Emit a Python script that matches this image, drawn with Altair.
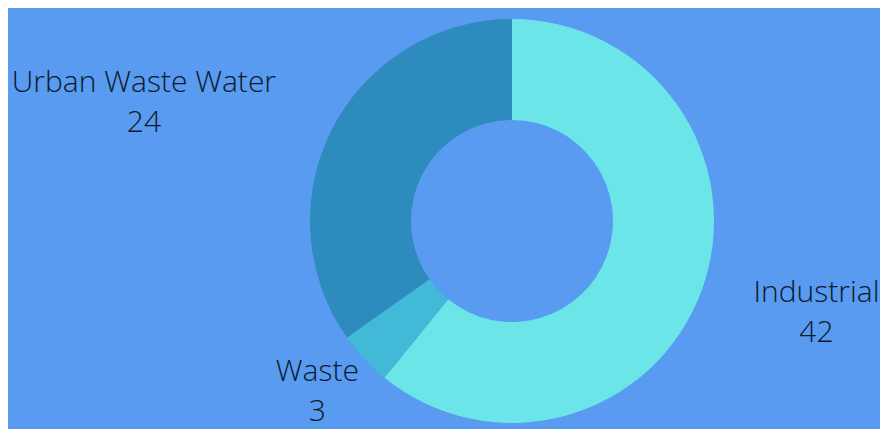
import math
import altair as alt
import pandas as pd

# Data
categories = ["Industrial", "Waste", "Urban Waste Water"]
values = [42, 3, 24]
colors = ["#6CE5E8", "#42B9D6", "#2D8BBD"]

# Layout (pixels / degrees) - kept separate from data
W, H = 872, 421
CX, CY = 504, 213
R_OUT, R_IN = 202, 101
label_radius = [315, 252, 390]
label_angle_nudge = [-4.7, 3.6, -8.1]

df = pd.DataFrame({"category": categories, "value": values, "order": range(len(categories))})
df["text"] = [[c, str(v)] for c, v in zip(categories, values)]

total = sum(values)
cum = 0
xs, ys = [], []
for v, r, nd in zip(values, label_radius, label_angle_nudge):
    mid = (cum + v / 2) / total * 360 + nd
    cum += v
    a = math.radians(mid)
    xs.append(CX + r * math.sin(a))
    ys.append(CY - r * math.cos(a))
df["lx"] = xs
df["ly"] = ys

color_scale = alt.Scale(domain=categories, range=colors)

arcs = alt.Chart(df).mark_arc(innerRadius=R_IN, outerRadius=R_OUT, stroke=None).encode(
    theta=alt.Theta("value:Q", stack=True),
    order=alt.Order("order:Q"),
    color=alt.Color("category:N", scale=color_scale, legend=None),
    x=alt.value(CX),
    y=alt.value(CY),
)

labels = alt.Chart(df).mark_text(
    font="Open Sans", fontWeight=300, fontSize=30, color="#0E1A2C",
    align="center", baseline="alphabetic", lineHeight=40,
).encode(
    x=alt.X("lx:Q", scale=None),
    y=alt.Y("ly:Q", scale=None),
    text="text",
)

chart = alt.layer(arcs, labels).properties(
    width=W, height=H, background="#589BF0", padding=0,
    autosize=alt.AutoSizeParams(type="none"),
).configure_view(stroke=None)

chart.save("out.html", embed_options={"renderer": "svg", "actions": False})
